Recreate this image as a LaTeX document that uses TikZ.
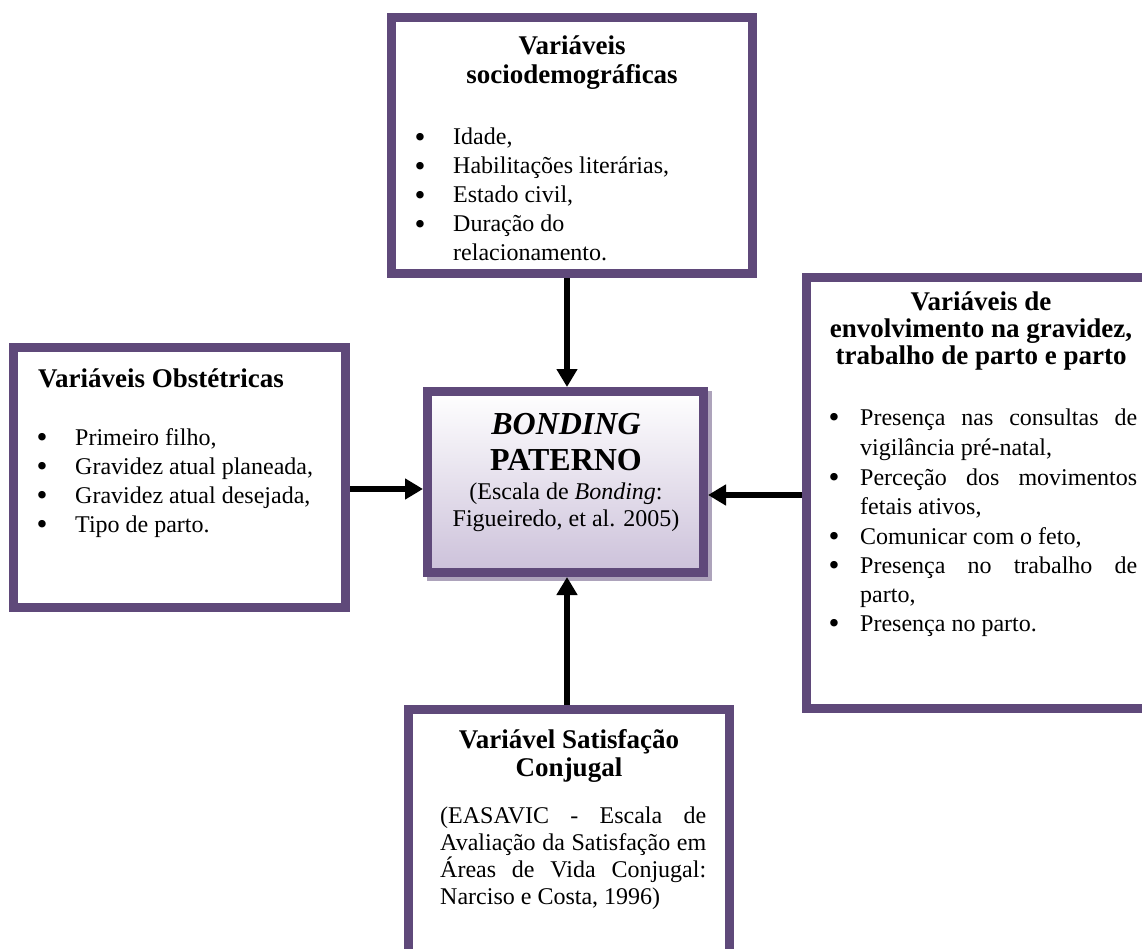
\documentclass[tikz,border=0pt]{standalone}
\usepackage{fontspec}
\setmainfont{Liberation Serif}
\usetikzlibrary{arrows.meta}
\definecolor{bord}{HTML}{5F497A}
\definecolor{lilac}{HTML}{CCC1DA}
\definecolor{shad}{HTML}{ADA3BB}
\newcommand{\bigbul}{\raisebox{-2.6pt}{\scalebox{1.3}{\textbullet}}}
\begin{document}
\begin{tikzpicture}[x=1pt,y=-1pt,
  box/.style={draw=bord, line width=9pt, inner sep=0pt, outer sep=4.5pt, anchor=north west, fill=white},
  body/.style={inner sep=0pt, anchor=base west, font=\fontsize{24}{29}\selectfont},
  bodyc/.style={inner sep=0pt, anchor=base, font=\fontsize{24}{29}\selectfont},
  bul/.style={inner sep=0pt, anchor=base, font=\fontsize{24}{29}\selectfont},
  head/.style={inner sep=0pt, anchor=base, font=\fontsize{27}{30}\bfseries\selectfont},
  big/.style={inner sep=0pt, anchor=base, font=\fontsize{32}{36}\selectfont},
  arr/.style={line width=6pt, -{Triangle[length=18pt,width=20pt]}},
]
\useasboundingbox (0,0) rectangle (1142,949);
\fill[white] (0,0) rectangle (1142,949);
\clip (0,0) rectangle (1142,949);

% boxes
\node[box, minimum width=361pt, minimum height=256pt] (top) at (387,13) {};
\node[box, minimum width=332pt, minimum height=260pt] (left) at (9,343) {};
\fill[shad] (427,391) rectangle (712,581);
\node[box, fill=none, top color=white, bottom color=lilac, minimum width=276pt, minimum height=181pt] (center) at (423,387) {};
\node[box, minimum width=349pt, minimum height=431pt] (right) at (802,273) {};
\node[box, minimum width=321pt, minimum height=266pt] (bot) at (404,705) {};

% connectors
\coordinate (vx) at (567,0);
\coordinate (ly) at (0,489);
\coordinate (ry) at (0,495);
\draw[arr] (top.south -| vx) -- (center.north -| vx);
\draw[arr] (left.east |- ly) -- (center.west |- ly);
\draw[arr] (right.west |- ry) -- (center.east |- ry);
\draw[arr] (bot.north -| vx) -- (center.south -| vx);

% top box text
\node[head] (th1) at (572,55) {Variáveis};
\node[head] (th2) at (572,84) {sociodemográficas};
\node[bul] (tb1) at (420,145) {\bigbul}; \node[body] (tt1) at (453,145) {Idade,};
\node[bul] (tb2) at (420,174) {\bigbul}; \node[body] (tt2) at (453,174) {Habilitações literárias,};
\node[bul] (tb3) at (420,203) {\bigbul}; \node[body] (tt3) at (453,203) {Estado civil,};
\node[bul] (tb4) at (420,232) {\bigbul}; \node[body] (tt4) at (453,232) {Duração do};
\node[body] (tt5) at (453,261) {relacionamento.};

% left box text
\node[head, anchor=base west] (lh) at (38,387) {Variáveis Obstétricas};
\node[bul] (lb1) at (42,445) {\bigbul}; \node[body] (lt1) at (75,445) {Primeiro filho,};
\node[bul] (lb2) at (42,474) {\bigbul}; \node[body] (lt2) at (75,474) {Gravidez atual planeada,};
\node[bul] (lb3) at (42,503) {\bigbul}; \node[body] (lt3) at (75,503) {Gravidez atual desejada,};
\node[bul] (lb4) at (42,532) {\bigbul}; \node[body] (lt4) at (75,532) {Tipo de parto.};

% center box text
\node[big] (c1) at (566,434) {\textbf{\textit{BONDING}}};
\node[big] (c2) at (566,470) {\textbf{PATERNO}};
\node[bodyc] (c3) at (566,499) {(Escala de \textit{Bonding}:};
\node[bodyc] (c4) at (566,526) {Figueiredo, et al. 2005)};

% right box text
\node[head] (rh1) at (981,310) {Variáveis de};
\node[head] (rh2) at (981,337) {envolvimento na gravidez,};
\node[head] (rh3) at (981,364) {trabalho de parto e parto};
\node[bul] (rb1) at (834,425) {\bigbul}; \node[body] (rt1) at (860,425) {\makebox[277pt][s]{Presença nas consultas de}};
\node[body] (rt2) at (860,455) {vigilância pré-natal,};
\node[bul] (rb3) at (834,485) {\bigbul}; \node[body] (rt3) at (860,485) {\makebox[277pt][s]{Perceção dos movimentos}};
\node[body] (rt4) at (860,514) {fetais ativos,};
\node[bul] (rb5) at (834,544) {\bigbul}; \node[body] (rt5) at (860,544) {Comunicar com o feto,};
\node[bul] (rb6) at (834,573) {\bigbul}; \node[body] (rt6) at (860,573) {\makebox[277pt][s]{Presença no trabalho de}};
\node[body] (rt7) at (860,602) {parto,};
\node[bul] (rb8) at (834,631) {\bigbul}; \node[body] (rt8) at (860,631) {Presença no parto.};

% bottom box text
\node[head] (bh1) at (569,748) {Variável Satisfação};
\node[head] (bh2) at (569,776) {Conjugal};
\node[body] (bt1) at (440,823) {\makebox[266pt][s]{(EASAVIC - Escala de}};
\node[body] (bt2) at (440,850) {\makebox[266pt][s]{Avaliação da Satisfação em}};
\node[body] (bt3) at (440,877) {\makebox[266pt][s]{Áreas de Vida Conjugal:}};
\node[body] (bt4) at (440,904) {Narciso e Costa, 1996)};
\end{tikzpicture}
\end{document}
